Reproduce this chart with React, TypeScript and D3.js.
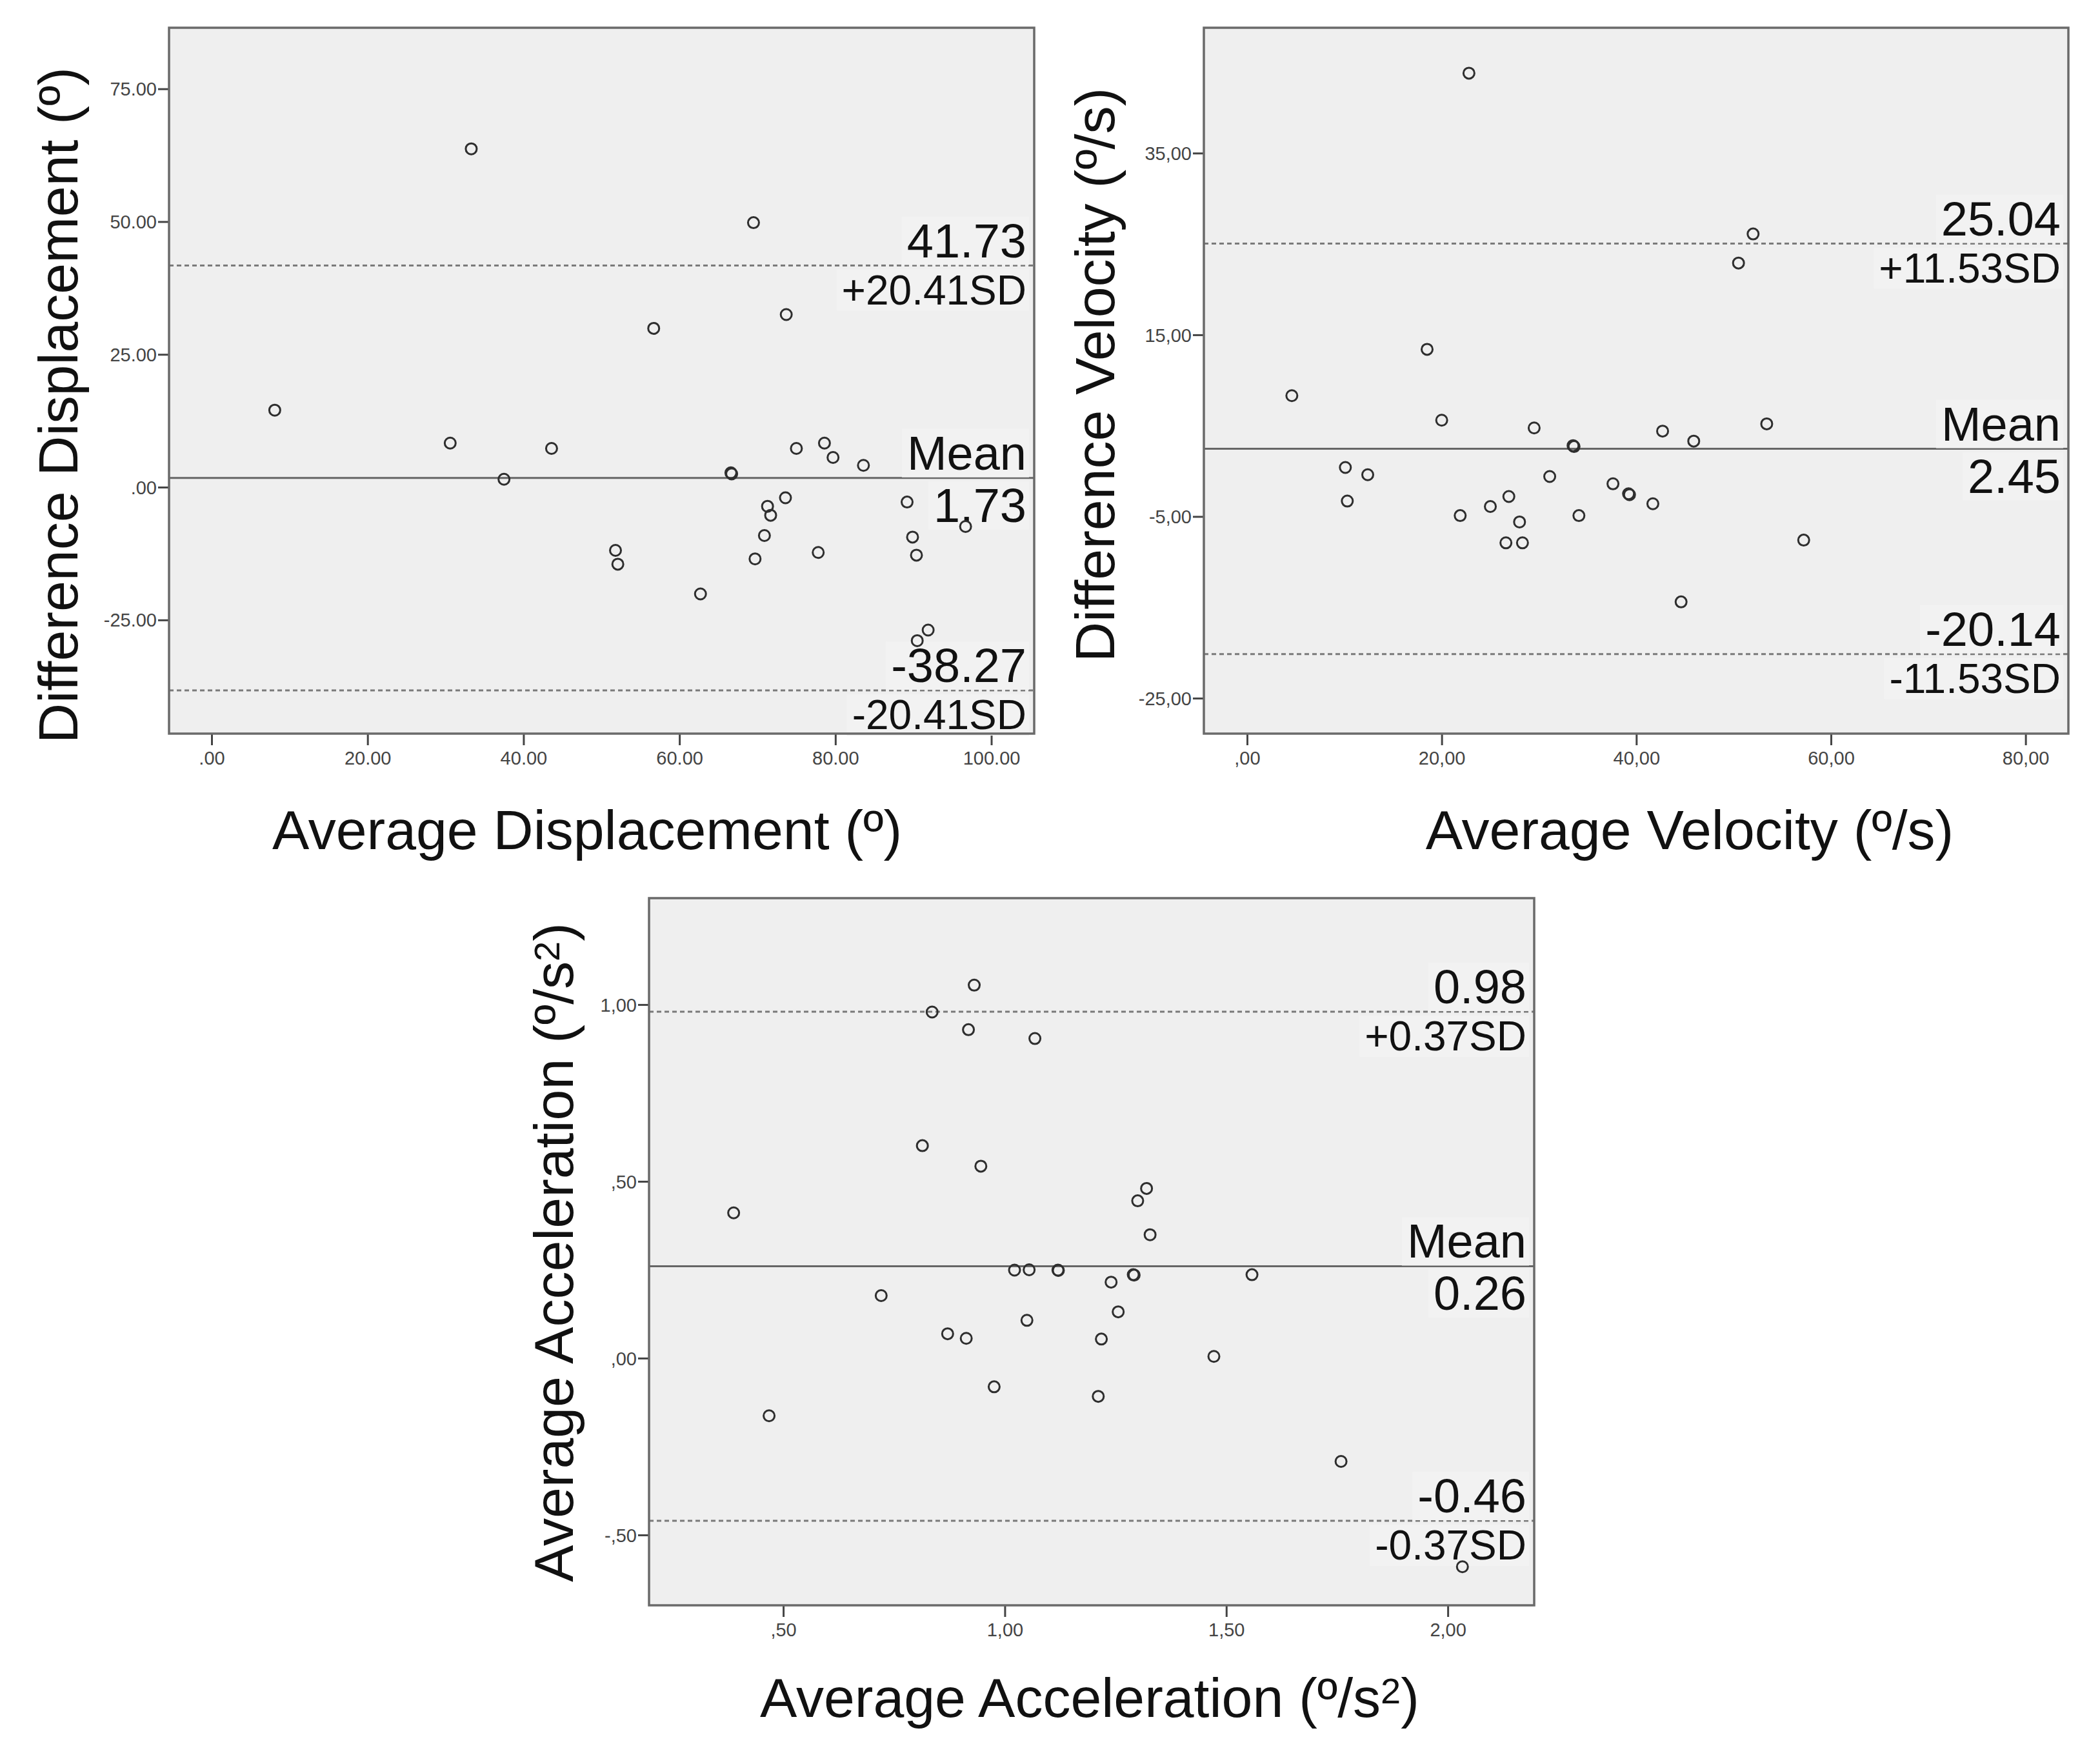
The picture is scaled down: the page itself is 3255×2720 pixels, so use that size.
import React, { useEffect, useRef } from 'react';
import * as d3 from 'd3';

// ---------- Data ----------
const dispX = [8.1, 33.3, 30.6, 37.5, 43.6, 56.7, 51.8, 52.1, 62.7, 66.6, 66.7, 69.5, 69.7, 70.9, 71.3, 71.7, 73.7, 73.6, 75.0, 77.8, 78.6, 79.7, 83.6, 89.2, 89.9, 90.4, 91.9, 90.5, 96.7];
const dispY = [14.5, 63.7, 8.3, 1.5, 7.3, 29.9, -11.9, -14.5, -20.1, 2.7, 2.5, 49.8, -13.5, -9.1, -3.6, -5.3, 32.5, -2.0, 7.3, -12.3, 8.3, 5.6, 4.1, -2.8, -9.4, -12.8, -26.9, -28.9, -7.4];
const dispXTicks = [0, 20, 40, 60, 80, 100];
const dispXTickLabels = ['.00', '20.00', '40.00', '60.00', '80.00', '100.00'];
const dispYTicks = [75, 50, 25, 0, -25];
const dispYTickLabels = ['75.00', '50.00', '25.00', '.00', '-25.00'];
const dispRefs = [41.73, 1.73, -38.27]; // upper, mean, lower
const dispRefLabels = ['41.73', '+20.41SD', 'Mean', '1.73', '-38.27', '-20.41SD'];

const velX = [22.8, 52.0, 50.5, 18.5, 4.6, 20.0, 29.5, 42.7, 53.4, 45.9, 33.5, 33.6, 10.1, 12.4, 31.1, 10.3, 37.6, 39.2, 39.3, 41.7, 26.9, 25.0, 21.9, 34.1, 28.0, 26.6, 28.3, 57.2, 44.6];
const velY = [43.8, 26.1, 22.9, 13.4, 8.3, 5.6, 4.75, 4.4, 5.2, 3.3, 2.8, 2.7, 0.4, -0.4, -0.6, -3.3, -1.4, -2.5, -2.6, -3.6, -2.8, -3.9, -4.9, -4.9, -5.6, -7.9, -7.9, -7.6, -14.4];
const velXTicks = [0, 20, 40, 60, 80];
const velXTickLabels = [',00', '20,00', '40,00', '60,00', '80,00'];
const velYTicks = [35, 15, -5, -25];
const velYTickLabels = ['35,00', '15,00', '-5,00', '-25,00'];
const velRefs = [25.04, 2.45, -20.14];
const velRefLabels = ['25.04', '+11.53SD', 'Mean', '2.45', '-20.14', '-11.53SD'];

const accX = [0.931, 0.836, 0.918, 1.068, 0.814, 0.946, 1.320, 1.300, 1.328, 0.388, 1.022, 1.055, 1.120, 1.121, 1.240, 1.290, 1.292, 1.558, 0.721, 1.256, 1.050, 0.871, 0.913, 1.218, 1.472, 0.976, 1.211, 0.468, 1.759, 2.033];
const accY = [1.055, 0.979, 0.929, 0.904, 0.601, 0.543, 0.480, 0.445, 0.349, 0.411, 0.249, 0.250, 0.249, 0.248, 0.215, 0.236, 0.235, 0.236, 0.177, 0.131, 0.107, 0.069, 0.056, 0.054, 0.005, -0.081, -0.108, -0.163, -0.292, -0.590];
const accXTicks = [0.5, 1.0, 1.5, 2.0];
const accXTickLabels = [',50', '1,00', '1,50', '2,00'];
const accYTicks = [1.0, 0.5, 0.0, -0.5];
const accYTickLabels = ['1,00', ',50', ',00', '-,50'];
const accRefs = [0.98, 0.26, -0.46];
const accRefLabels = ['0.98', '+0.37SD', 'Mean', '0.26', '-0.46', '-0.37SD'];

// ---------- Layout ----------
type Part = { t: string; sup?: boolean };
const panels = [
  {
    box: [262, 43, 1603, 1137], xDomain: [-5.46, 105.5], yDomain: [-46.4, 86.5],
    xs: dispX, ys: dispY, xTicks: dispXTicks, xTickLabels: dispXTickLabels,
    yTicks: dispYTicks, yTickLabels: dispYTickLabels, refs: dispRefs, refLabels: dispRefLabels,
    xTitle: [{ t: 'Average Displacement (º)' }] as Part[], xTitlePos: [910, 1316],
    yTitle: [{ t: 'Difference Displacement (º)' }] as Part[], yTitlePos: [120, 628],
  },
  {
    box: [1866, 43, 3206, 1137], xDomain: [-4.44, 84.4], yDomain: [-28.9, 48.8],
    xs: velX, ys: velY, xTicks: velXTicks, xTickLabels: velXTickLabels,
    yTicks: velYTicks, yTickLabels: velYTickLabels, refs: velRefs, refLabels: velRefLabels,
    xTitle: [{ t: 'Average Velocity (º/s)' }] as Part[], xTitlePos: [2619, 1316],
    yTitle: [{ t: 'Difference Velocity (º/s)' }] as Part[], yTitlePos: [1727, 581],
  },
  {
    box: [1006, 1392, 2378, 2488], xDomain: [0.197, 2.195], yDomain: [-0.699, 1.301],
    xs: accX, ys: accY, xTicks: accXTicks, xTickLabels: accXTickLabels,
    yTicks: accYTicks, yTickLabels: accYTickLabels, refs: accRefs, refLabels: accRefLabels,
    xTitle: [{ t: 'Average Acceleration (º/s' }, { t: '2', sup: true }, { t: ')' }] as Part[], xTitlePos: [1689, 2661],
    yTitle: [{ t: 'Average Acceleration (º/s' }, { t: '2', sup: true }, { t: ')' }] as Part[], yTitlePos: [888, 1941],
  },
];

const FONT = "'Liberation Sans', Arial, sans-serif";

export default function App() {
  const ref = useRef<SVGSVGElement>(null);
  useEffect(() => {
    const svg = d3.select(ref.current);
    svg.selectAll('*').remove();
    svg.append('rect').attr('width', 3255).attr('height', 2720).attr('fill', '#fff');

    panels.forEach((p) => {
      const [l, t, r, b] = p.box;
      const x = d3.scaleLinear().domain(p.xDomain).range([l, r]);
      const y = d3.scaleLinear().domain(p.yDomain).range([b, t]);
      const g = svg.append('g');

      g.append('rect').attr('x', l).attr('y', t).attr('width', r - l).attr('height', b - t)
        .attr('fill', '#efefef');

      // Axes (ticks + labels)
      const xAxis = d3.axisBottom(x).tickValues(p.xTicks).tickSize(18).tickSizeOuter(0)
        .tickFormat((d, i) => p.xTickLabels[i]);
      const ax = g.append('g').attr('transform', `translate(0,${b})`).call(xAxis);
      ax.select('.domain').remove();
      ax.selectAll('line').attr('stroke', '#444').attr('stroke-width', 3);
      ax.selectAll('text').attr('font-family', FONT).attr('font-size', 29).attr('fill', '#444')
        .attr('y', 27).attr('dy', '0.71em');

      const yAxis = d3.axisLeft(y).tickValues(p.yTicks).tickSize(17).tickSizeOuter(0)
        .tickFormat((d, i) => p.yTickLabels[i]);
      const ay = g.append('g').attr('transform', `translate(${l},0)`).call(yAxis);
      ay.select('.domain').remove();
      ay.selectAll('line').attr('stroke', '#444').attr('stroke-width', 3);
      ay.selectAll('text').attr('font-family', FONT).attr('font-size', 29).attr('fill', '#444')
        .attr('x', -19).attr('dy', '0.35em');

      // Reference lines
      p.refs.forEach((v, i) => {
        g.append('line').attr('x1', l).attr('x2', r).attr('y1', y(v)).attr('y2', y(v))
          .attr('stroke', i === 1 ? '#666' : '#7a7a7a')
          .attr('stroke-width', 3)
          .attr('stroke-dasharray', i === 1 ? null : '7,5');
      });

      // Reference labels (above/below each line)
      const labelG = g.append('g');
      p.refs.forEach((v, i) => {
        const above = p.refLabels[i * 2];
        const below = p.refLabels[i * 2 + 1];
        const isSD = (s: string) => s.endsWith('SD');
        const addLabel = (s: string, yy: number) => {
          const txt = labelG.append('text').attr('x', r - 12).attr('y', yy)
            .attr('text-anchor', 'end').attr('font-family', FONT)
            .attr('font-size', isSD(s) ? 64 : 74).attr('fill', '#111').text(s);
          const node = txt.node() as SVGTextElement;
          const bb = node.getBBox();
          labelG.insert('rect', 'text').attr('x', bb.x - 8).attr('y', bb.y + 4)
            .attr('width', bb.width + 12).attr('height', bb.height - 8).attr('fill', '#f2f2f2');
        };
        addLabel(above, y(v) - 13);
        addLabel(below, y(v) + (isSD(below) ? 60 : 68));
      });

      // Points
      g.append('g').selectAll('circle').data(p.xs.map((xv, i) => [xv, p.ys[i]]))
        .join('circle').attr('cx', (d) => x(d[0])).attr('cy', (d) => y(d[1])).attr('r', 8.5)
        .attr('fill', 'none').attr('stroke', '#2e2e2e').attr('stroke-width', 3);

      // Frame
      g.append('rect').attr('x', l).attr('y', t).attr('width', r - l).attr('height', b - t)
        .attr('fill', 'none').attr('stroke', '#6a6a6a').attr('stroke-width', 3.5);

      // Titles
      const addTitle = (parts: Part[], px: number, py: number, rotate: boolean) => {
        const tt = g.append('text').attr('font-family', FONT).attr('font-size', 86).attr('fill', '#111')
          .attr('text-anchor', 'middle')
          .attr('transform', rotate ? `translate(${px},${py}) rotate(-90)` : `translate(${px},${py})`);
        parts.forEach((pt) => {
          const ts = tt.append('tspan').text(pt.t);
          if (pt.sup) ts.attr('font-size', 56).attr('baseline-shift', '38%');
        });
      };
      addTitle(p.xTitle, p.xTitlePos[0], p.xTitlePos[1], false);
      addTitle(p.yTitle, p.yTitlePos[0], p.yTitlePos[1], true);
    });
  }, []);

  return (
    <svg ref={ref} width={3255} height={2720}
      style={{ position: 'absolute', left: 0, top: 0, display: 'block' }} />
  );
}
